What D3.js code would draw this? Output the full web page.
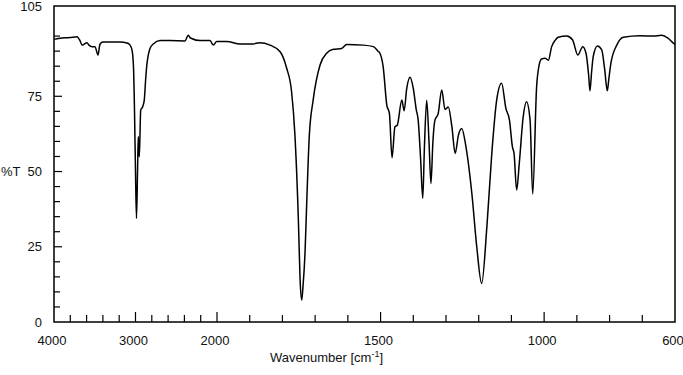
<!DOCTYPE html>
<html>
<head>
<meta charset="utf-8">
<script src="https://cdn.jsdelivr.net/npm/d3@7"></script>
<style>
  body { margin: 0; background: #fff; }
  text { font-family: "Liberation Sans", Arial, sans-serif; font-size: 13px; fill: #111; }
</style>
</head>
<body>
<svg width="683" height="375"></svg>
<script>
// spectrum (wavenumber in cm-1, transmittance in %)
var wavenumber = [4000, 3988, 3926, 3804, 3718, 3681, 3656, 3620, 3595, 3571, 3534, 3497, 3460, 3436, 3399,
  3313, 3190, 3104, 3067, 3043, 3025, 3012, 3000, 2988, 2975, 2966, 2953, 2936, 2912, 2892, 2877, 2863,
  2822, 2782, 2699, 2577, 2393, 2352, 2331, 2311, 2209, 2086, 2045, 2004,
  1970, 1930, 1890, 1869, 1838, 1807, 1787, 1772, 1762, 1751, 1746, 1741, 1737, 1731, 1725, 1718, 1706,
  1685, 1665, 1644, 1619, 1604, 1553, 1522, 1508, 1502, 1492, 1481, 1473, 1465, 1456, 1449, 1435, 1428,
  1420, 1410, 1400, 1391, 1385, 1378, 1371, 1366, 1359, 1352, 1346, 1340, 1334, 1324, 1313, 1303, 1293,
  1282, 1272, 1262, 1252, 1239, 1221, 1206, 1191, 1175, 1160, 1145, 1130, 1117, 1106, 1097, 1092, 1084,
  1076, 1064, 1054, 1043, 1035, 1023, 1016, 1008, 997, 987, 977, 967, 957, 931, 913, 897, 882, 872, 864,
  860, 855, 850, 837, 824, 815, 807, 802, 796, 778, 758, 707, 666, 641, 620, 602, 600];
var transmittance = [93.9, 94, 94.3, 94.5, 94.8, 93.5, 92, 92.5, 92.8, 92, 91.5, 91.5, 88.7, 92.3, 93,
  93, 93, 92.7, 92, 90.4, 85, 70, 50, 34.4, 50, 61.6, 54.9, 70.4, 71.5, 73.8, 80, 84.8,
  90.9, 92.4, 93.5, 93.5, 93.4, 95.3, 94.5, 94.2, 93.5, 93.5, 92, 93.2,
  93.2, 92.4, 92.4, 92.8, 92, 89.8, 84.3, 76.5, 62.5, 33, 14, 7.3, 12, 22.8, 42, 61.6, 73.8,
  85.4, 89.3, 90.6, 90.9, 92.2, 92, 91.5, 90, 89.3, 84.8, 72.1, 69.3, 54.6, 64.9, 65.4, 73.8, 70.2,
  77.6, 81.3, 77.6, 70.6, 67.1, 55, 41.1, 58, 73.7, 60, 46, 60, 67, 69.2, 77.1, 70.6, 71.4,
  64.9, 56, 62.1, 64.3, 58.2, 42.7, 25, 12.8, 31.7, 56, 73.8, 79.3, 71, 67.1, 58.2, 56, 43.9,
  52.7, 68.2, 73.2, 67.1, 42.5, 78.2, 85, 87.4, 87.6, 87, 91.5, 93.5, 94.6, 95, 93.7, 88.7, 91.5, 89.3, 82,
  76.8, 83, 88.2, 91.7, 90.4, 84, 76.8, 81, 85.9, 92, 94.6, 95.1, 95, 95.3, 94.2, 92.4, 92.3];

// axis labels / ticks
var xLabels = [4000, 3000, 2000, 1500, 1000, 600];
var xMajor = [3000, 2000, 1500, 1000];
var yLabels = [0, 25, 50, 75, 105];

var svg = d3.select('svg'),
  margin = {left: 54, right: 8, top: 6, bottom: 53},
  w = +svg.attr('width'),
  h = +svg.attr('height');

// the x axis is stretched 4x below 2000 cm-1
var x = d3.scaleLinear().domain([4000, 2000, 600]).range([margin.left, 217, w - margin.right]);
var y = d3.scaleLinear().domain([0, 105]).range([h - margin.bottom, margin.top]);

var data = wavenumber.map(function(d, i) { return {wn: d, t: transmittance[i]}; });

// minor ticks: every 200 above 2000, every 100 below
var xMinor = d3.range(3800, 2000, -200).concat(d3.range(1900, 600, -100))
  .filter(function(d) { return xMajor.indexOf(d) < 0; });
var yMinor = d3.range(5, 105, 5).filter(function(d) { return d % 25 !== 0; });

var g = svg.append('g');

g.selectAll('line.xminor').data(xMinor).enter().append('line')
  .attr('x1', function(d) { return x(d); }).attr('x2', function(d) { return x(d); })
  .attr('y1', y(0)).attr('y2', y(0) - 7)
  .attr('stroke', '#000').attr('stroke-width', 1.2);
g.selectAll('line.xmajor').data(xMajor).enter().append('line')
  .attr('x1', function(d) { return x(d); }).attr('x2', function(d) { return x(d); })
  .attr('y1', y(0)).attr('y2', y(0) - 10)
  .attr('stroke', '#000').attr('stroke-width', 1.2);
g.selectAll('line.yminor').data(yMinor).enter().append('line')
  .attr('x1', margin.left).attr('x2', margin.left + 6)
  .attr('y1', function(d) { return y(d); }).attr('y2', function(d) { return y(d); })
  .attr('stroke', '#000').attr('stroke-width', 1.2);
g.selectAll('line.ymajor').data([25, 50, 75]).enter().append('line')
  .attr('x1', margin.left).attr('x2', margin.left + 8)
  .attr('y1', function(d) { return y(d); }).attr('y2', function(d) { return y(d); })
  .attr('stroke', '#000').attr('stroke-width', 1.2);

// frame
g.append('rect')
  .attr('x', margin.left).attr('y', margin.top)
  .attr('width', w - margin.right - margin.left)
  .attr('height', y(0) - margin.top)
  .attr('fill', 'none').attr('stroke', '#000').attr('stroke-width', 1.5);

g.selectAll('text.xl').data(xLabels).enter().append('text')
  .attr('x', function(d) { return x(d) - 2; })
  .attr('y', y(0) + 23)
  .attr('text-anchor', 'middle')
  .text(function(d) { return d; });

g.selectAll('text.yl').data(yLabels).enter().append('text')
  .attr('x', margin.left - 12)
  .attr('y', function(d) { return y(d); })
  .attr('dy', '0.35em')
  .attr('text-anchor', 'end')
  .text(function(d) { return d; });

g.append('text').attr('x', 1).attr('y', y(50)).attr('dy', '0.35em').text('%T');

var xt = g.append('text').attr('x', 270).attr('y', 362);
xt.append('tspan').text('Wavenumber [cm');
xt.append('tspan').attr('dy', -5).style('font-size', '9px').text('-1');
xt.append('tspan').attr('dy', 5).text(']');

var line = d3.line()
  .x(function(d) { return x(d.wn); })
  .y(function(d) { return y(d.t); })
  .curve(d3.curveMonotoneX);

g.append('path').datum(data)
  .attr('d', line)
  .attr('fill', 'none')
  .attr('stroke', '#000')
  .attr('stroke-width', 1.5)
  .attr('stroke-linejoin', 'round');
</script>
</body>
</html>
